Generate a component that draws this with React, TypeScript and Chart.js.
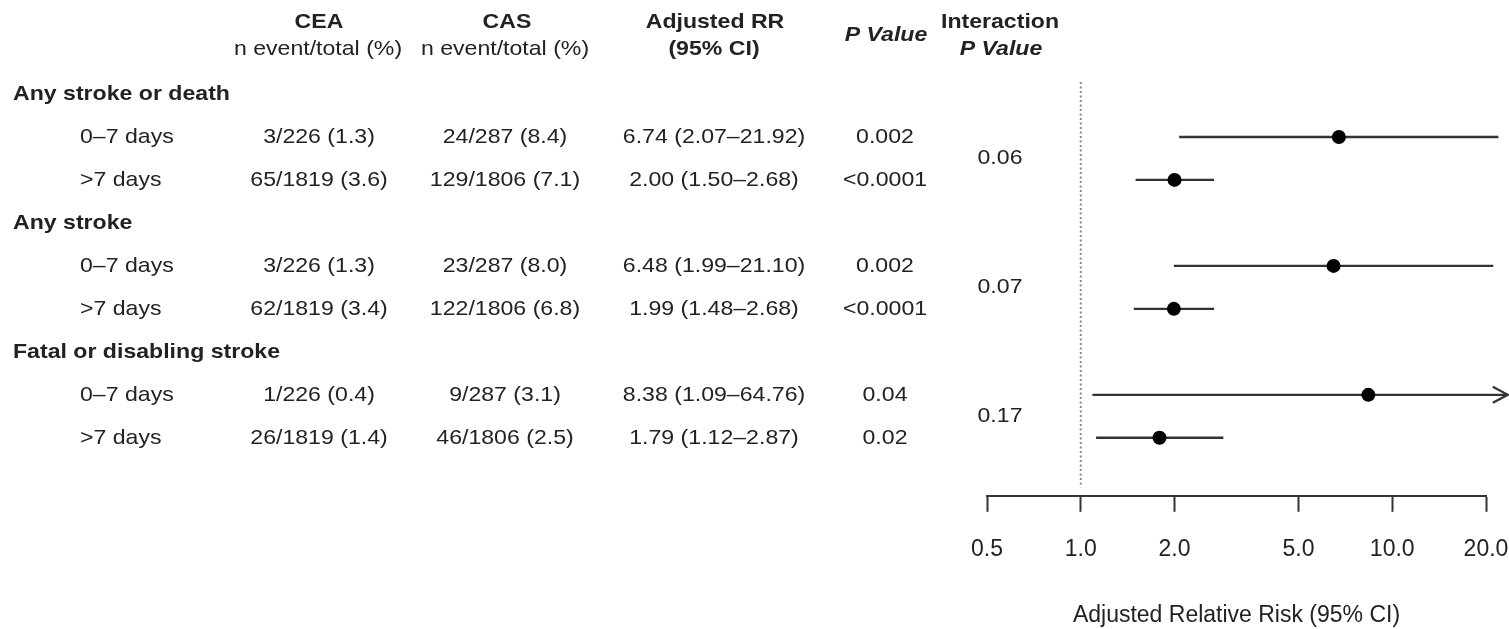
import React, { useEffect, useRef } from 'react';
import { Chart, registerables } from 'chart.js';

Chart.register(...registerables);

// ---------- data ----------
const groups = ['Any stroke or death', 'Any stroke', 'Fatal or disabling stroke'];
const periods = ['0–7 days', '>7 days'];
const ceaText = ['3/226 (1.3)', '65/1819 (3.6)', '3/226 (1.3)', '62/1819 (3.4)', '1/226 (0.4)', '26/1819 (1.4)'];
const casText = ['24/287 (8.4)', '129/1806 (7.1)', '23/287 (8.0)', '122/1806 (6.8)', '9/287 (3.1)', '46/1806 (2.5)'];
const rr = [6.74, 2.0, 6.48, 1.99, 8.38, 1.79];
const lower = [2.07, 1.5, 1.99, 1.48, 1.09, 1.12];
const upper = [21.92, 2.68, 21.1, 2.68, 64.76, 2.87];
const pValues = ['0.002', '<0.0001', '0.002', '<0.0001', '0.04', '0.02'];
const interactionP = ['0.06', '0.07', '0.17'];
const tickValues = [0.5, 1, 2, 5, 10, 20];
const clipUpper = 23.5; // CIs beyond this are drawn with an arrow
const refValue = 1;

// ---------- layout helpers ----------
const rowOf = (i: number) => 3 * Math.floor(i / 2) + 1 + (i % 2);
const groupRow = (g: number) => 3 * g;
const FONT = '"Liberation Sans", Arial, Helvetica, sans-serif';
const SX = 1.1;
const TEXT = '#222';
const LINE = '#333';

const tablePlugin = {
  id: 'forestTable',
  afterDraw(chart: any) {
    const ctx = chart.ctx as CanvasRenderingContext2D;
    const ys = chart.scales.y;
    const txt = (s: string, x: number, r: number, align: CanvasTextAlign, weight = 'normal', style = 'normal') => {
      ctx.save();
      ctx.font = `${style} ${weight} 21px ${FONT}`;
      ctx.fillStyle = TEXT;
      ctx.textBaseline = 'middle';
      ctx.textAlign = align;
      ctx.translate(x, ys.getPixelForValue(r));
      ctx.scale(SX, 1);
      ctx.fillText(s, 0, 0);
      ctx.restore();
    };
    // headers
    txt('CEA', 319, -1.68, 'center', 'bold');
    txt('n event/total (%)', 318, -1.04, 'center');
    txt('CAS', 507, -1.68, 'center', 'bold');
    txt('n event/total (%)', 505, -1.04, 'center');
    txt('Adjusted RR', 715, -1.68, 'center', 'bold');
    txt('(95% CI)', 714, -1.04, 'center', 'bold');
    txt('P Value', 886, -1.36, 'center', 'bold', 'italic');
    txt('Interaction', 1000, -1.68, 'center', 'bold');
    txt('P Value', 1001, -1.04, 'center', 'bold', 'italic');

    groups.forEach((g, gi) => {
      txt(g, 13, groupRow(gi), 'left', 'bold');
      txt(interactionP[gi], 1000, groupRow(gi) + 1.5, 'center');
    });
    rr.forEach((v, i) => {
      const r = rowOf(i);
      txt(periods[i % 2], 80, r, 'left');
      txt(ceaText[i], 319, r, 'center');
      txt(casText[i], 505, r, 'center');
      txt(`${v.toFixed(2)} (${lower[i].toFixed(2)}–${upper[i].toFixed(2)})`, 714, r, 'center');
      txt(pValues[i], 885, r, 'center');
    });
  },
  afterDatasetsDraw(chart: any) {
    const ctx = chart.ctx as CanvasRenderingContext2D;
    const xs = chart.scales.x;
    const ys = chart.scales.y;
    upper.forEach((u, i) => {
      if (u <= clipUpper) return;
      const x = xs.getPixelForValue(clipUpper);
      const y = ys.getPixelForValue(rowOf(i));
      ctx.save();
      ctx.strokeStyle = LINE;
      ctx.lineWidth = 2.2;
      ctx.beginPath();
      ctx.moveTo(x - 15, y - 8);
      ctx.lineTo(x, y);
      ctx.lineTo(x - 15, y + 8);
      ctx.stroke();
      ctx.restore();
    });
  },
};

export default function App() {
  const ref = useRef<HTMLCanvasElement | null>(null);
  useEffect(() => {
    if (!ref.current) return;
    const ciSets = rr.map((_, i) => ({
      type: 'line' as const,
      data: [
        { x: lower[i], y: rowOf(i) },
        { x: Math.min(upper[i], clipUpper), y: rowOf(i) },
      ],
      borderColor: LINE,
      borderWidth: 2.4,
      pointRadius: 0,
      clip: false as any,
    }));
    const chart = new Chart(ref.current, {
      type: 'scatter',
      data: {
        datasets: [
          {
            type: 'scatter',
            data: rr.map((v, i) => ({ x: v, y: rowOf(i) })),
            backgroundColor: '#000',
            borderColor: '#000',
            borderWidth: 0,
            pointRadius: 7,
            clip: false as any,
          },
          ...ciSets,
          {
            type: 'line',
            data: [
              { x: refValue, y: -0.28 },
              { x: refValue, y: 9.15 },
            ],
            borderColor: '#8a8a8a',
            borderWidth: 2,
            borderDash: [2, 2.5],
            pointRadius: 0,
            clip: false as any,
          },
        ] as any,
      },
      options: {
        animation: false,
        responsive: false,
        devicePixelRatio: 1,
        layout: { autoPadding: false, padding: { left: 987, right: 0, top: 0, bottom: 0 } },
        plugins: { legend: { display: false }, tooltip: { enabled: false } },
        scales: {
          x: {
            type: 'logarithmic',
            min: 0.5,
            max: 20,
            afterBuildTicks: (scale: any) => {
              scale.ticks = tickValues.map((v) => ({ value: v }));
            },
            afterFit: (scale: any) => {
              scale.paddingRight = 23;
              scale.paddingLeft = 0;
            },
            ticks: {
              autoSkip: false,
              maxRotation: 0,
              padding: 24,
              color: TEXT,
              font: { family: FONT, size: 23 },
              callback: (v: any) => Number(v).toFixed(1),
            },
            grid: {
              display: true,
              drawOnChartArea: false,
              drawTicks: true,
              tickLength: 16,
              tickWidth: 2,
              tickColor: LINE,
            },
            border: { display: true, color: LINE, width: 2 },
            title: {
              display: true,
              text: 'Adjusted Relative Risk (95% CI)',
              color: TEXT,
              font: { family: FONT, size: 23 },
              padding: { top: 14, bottom: 0 },
            },
          },
          y: {
            type: 'linear',
            reverse: true,
            min: -2.186,
            max: 9.349,
            display: false,
          },
        },
      } as any,
      plugins: [tablePlugin],
    });
    return () => chart.destroy();
  }, []);
  return (
    <div style={{ position: 'absolute', left: 0, top: 0, width: 1509, height: 629, background: '#fff' }}>
      <canvas ref={ref} width={1509} height={629} style={{ display: 'block' }} />
    </div>
  );
}
